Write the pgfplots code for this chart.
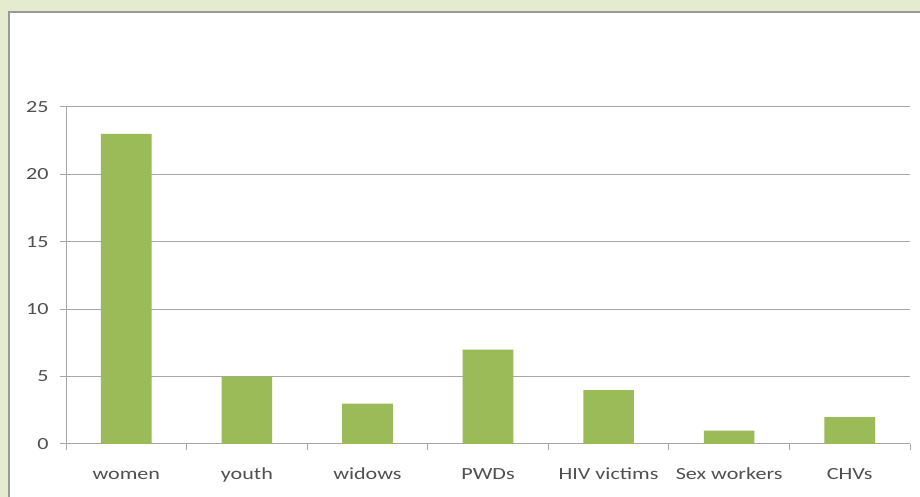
\documentclass[border=0pt]{standalone}
\usepackage{fontspec}
\setmainfont{Carlito}[FakeStretch=1.3]
\usepackage{pgfplots}
\pgfplotsset{compat=1.18}
\definecolor{bg}{RGB}{229,235,206}
\definecolor{barc}{RGB}{155,187,89}
\definecolor{gridc}{RGB}{166,166,166}
\definecolor{txt}{RGB}{80,80,80}
\begin{document}
\begin{tikzpicture}[x=1pt,y=1pt]
\useasboundingbox (0,0) rectangle (920,497);
\clip (0,0) rectangle (920,497);
\fill[bg] (0,0) rectangle (920,497);
\filldraw[fill=white, draw=gray!80, line width=1.5pt] (9,-10) rectangle (940,485);
\begin{axis}[at={(66pt,53pt)}, anchor=south west, scale only axis, width=844pt, height=337pt,
 xmin=-0.5, xmax=6.5, ymin=0, ymax=25,
 ytick={0,5,...,25},
 xtick={-0.5,0.5,...,6.5}, x tick label as interval,
 xticklabels={women,youth,widows,PWDs,HIV victims,Sex workers,CHVs},
 axis lines=left, axis line style={-, draw=gridc, line width=1pt},
 ymajorgrids, grid style={gridc, line width=1pt},
 tick align=outside, major tick length=6pt, tick style={gridc, line width=1pt},
 ticklabel style={font=\fontsize{17}{20}\selectfont, text=txt},
 /pgf/number format/assume math mode=true,
 yticklabel style={xshift=-8pt},
 xticklabel style={yshift=-15pt, text height=11pt, text depth=4pt},
]
\addplot[ybar, fill=barc, draw=none, bar width=0.42] coordinates {(0,23)(1,5)(2,3)(3,7)(4,4)(5,1)(6,2)};
\end{axis}
\end{tikzpicture}
\end{document}
